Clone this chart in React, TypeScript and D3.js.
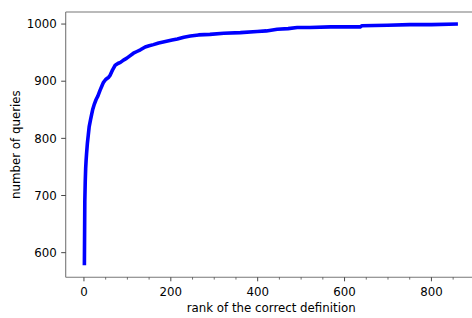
import React, { useEffect, useRef } from 'react';
import * as d3 from 'd3';

// rank of the correct definition vs cumulative number of queries
const ranks = [1, 2, 3, 4, 5, 6, 8, 10, 12, 15, 18, 20, 24, 28, 32, 37, 42, 45, 50, 57, 60, 66, 72, 78, 84, 91, 98, 105, 114, 122, 130, 141, 150, 160, 172, 185, 203, 215, 230, 245, 264, 290, 322, 360, 399, 420, 445, 470, 491, 520, 568, 600, 636, 640, 699, 750, 800, 861];
const queries = [578, 690, 725, 748, 762, 773, 792, 806, 820, 832, 843, 850, 860, 868, 874, 884, 893, 898, 903, 907, 910, 920, 928, 931, 933, 937, 940, 944, 949, 952, 955, 960, 962, 964, 967, 969, 972, 974, 977, 979, 981, 982, 984, 985, 987, 988, 991, 992, 994, 994, 995, 995, 995, 997, 998, 999, 999, 1000];

const xTicks = [0, 200, 400, 600, 800];
const xMinorTicks = [50, 100, 150, 250, 300, 350, 450, 500, 550, 650, 700, 750, 850];
const yTicks = [600, 700, 800, 900, 1000];

const xLabel = 'rank of the correct definition';
const yLabel = 'number of queries';

export default function App() {
  const ref = useRef<SVGSVGElement>(null);
  const width = 472;
  const height = 318;
  const left = 65.7;
  const right = 476.6;
  const top = 12;
  const bottom = 277.3;
  const font = 'DejaVu Sans, sans-serif';
  const fontSize = 11.8;

  useEffect(() => {
    const svg = d3.select(ref.current);
    svg.selectAll('*').remove();

    // matplotlib-like 5% margins
    const [x0, x1] = d3.extent(ranks) as [number, number];
    const [y0, y1] = d3.extent(queries) as [number, number];
    const xm = (x1 - x0) * 0.05;
    const ym = (y1 - y0) * 0.05;

    const x = d3.scaleLinear().domain([x0 - xm, x1 + xm]).range([left, right]);
    const y = d3.scaleLinear().domain([y0 - ym, y1 + ym]).range([bottom, top]);

    const data = ranks.map((r, i) => [r, queries[i]] as [number, number]);

    const line = d3.line<[number, number]>()
      .x((d) => x(d[0]))
      .y((d) => y(d[1]));

    svg.append('path')
      .datum(data)
      .attr('d', line)
      .attr('fill', 'none')
      .attr('stroke', '#0000ff')
      .attr('stroke-width', 3.6)
      .attr('stroke-linejoin', 'round');

    // spines
    const spine = '#777';
    svg.append('line').attr('x1', left).attr('x2', left).attr('y1', top).attr('y2', bottom)
      .attr('stroke', spine).attr('stroke-width', 1.1);
    svg.append('line').attr('x1', left).attr('x2', right).attr('y1', bottom).attr('y2', bottom)
      .attr('stroke', spine).attr('stroke-width', 1.1);
    svg.append('line').attr('x1', left).attr('x2', right).attr('y1', top).attr('y2', top)
      .attr('stroke', spine).attr('stroke-width', 1.1);

    // x ticks
    const gx = svg.append('g');
    gx.selectAll('.major').data(xTicks).enter().append('line')
      .attr('x1', (d) => x(d)).attr('x2', (d) => x(d))
      .attr('y1', bottom).attr('y2', bottom + 4)
      .attr('stroke', '#333').attr('stroke-width', 0.9);
    gx.selectAll('.minor').data(xMinorTicks).enter().append('line')
      .attr('x1', (d) => x(d)).attr('x2', (d) => x(d))
      .attr('y1', bottom).attr('y2', bottom + 2.3)
      .attr('stroke', '#333').attr('stroke-width', 0.7);
    gx.selectAll('text').data(xTicks).enter().append('text')
      .attr('x', (d) => x(d)).attr('y', 296)
      .attr('text-anchor', 'middle')
      .style('font-family', font).style('font-size', fontSize + 'px')
      .text((d) => d);

    // y ticks
    const gy = svg.append('g');
    gy.selectAll('line').data(yTicks).enter().append('line')
      .attr('x1', left - 4.5).attr('x2', left)
      .attr('y1', (d) => y(d)).attr('y2', (d) => y(d))
      .attr('stroke', '#333').attr('stroke-width', 0.9);
    gy.selectAll('text').data(yTicks).enter().append('text')
      .attr('x', 56.8).attr('y', (d) => y(d))
      .attr('dy', '0.36em')
      .attr('text-anchor', 'end')
      .style('font-family', font).style('font-size', fontSize + 'px')
      .text((d) => d);

    // axis labels
    svg.append('text')
      .attr('x', (left + right) / 2).attr('y', 311.5)
      .attr('text-anchor', 'middle')
      .style('font-family', font).style('font-size', fontSize + 'px')
      .text(xLabel);
    svg.append('text')
      .attr('transform', `translate(20,${(top + bottom) / 2}) rotate(-90)`)
      .attr('text-anchor', 'middle')
      .style('font-family', font).style('font-size', fontSize + 'px')
      .text(yLabel);
  }, []);

  return (
    <svg ref={ref} width={width} height={height}
      style={{ position: 'absolute', left: 0, top: 0, background: '#fff' }} />
  );
}
